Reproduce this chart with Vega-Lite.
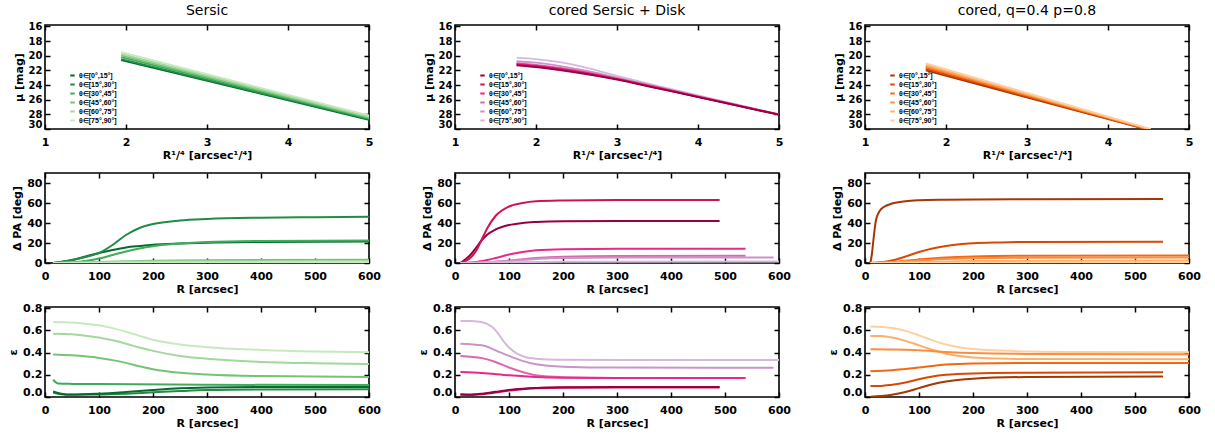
{
"$schema":"https://vega.github.io/schema/vega-lite/v6.json",
"background":"white",
"padding":{"left":6,"top":3,"right":0,"bottom":0},
"config":{
 "view":{"stroke":"black","strokeWidth":1.6},
 "axis":{"labelFont":"DejaVu Sans","labelFontWeight":"bold","labelFontSize":11,"labelColor":"black","titleFont":"DejaVu Sans","titleFontWeight":"bold","titleFontSize":11,"titleColor":"black","tickColor":"black","tickSize":-5,"tickWidth":1.5,"domain":false,"grid":false,"labelOverlap":false},
 "axisX":{"labelPadding":12,"titlePadding":2},
 "axisY":{"labelPadding":8,"titlePadding":4},
 "title":{"font":"DejaVu Sans","fontSize":14,"fontWeight":"normal","color":"black","offset":3},
 "legend":{"orient":"none","legendX":24,"legendY":47,"title":null,"symbolType":"stroke","symbolStrokeWidth":2,"symbolSize":20,"labelFontSize":7,"labelFont":"Liberation Sans","labelFontWeight":"bold","labelColor":"black","rowPadding":0,"labelOffset":3}
},
"datasets":{
"mu_a":[
{"g":0,"x":1.94,"y":20.6},{"g":0,"x":5,"y":28.75},
{"g":1,"x":1.94,"y":20.45},{"g":1,"x":5,"y":28.65},
{"g":2,"x":1.94,"y":20.2},{"g":2,"x":5,"y":28.55},
{"g":3,"x":1.94,"y":19.95},{"g":3,"x":5,"y":28.45},
{"g":4,"x":1.94,"y":19.75},{"g":4,"x":5,"y":28.3},
{"g":5,"x":1.94,"y":19.5},{"g":5,"x":5,"y":28.15}],
"mu_b":[
{"g":5,"x":1.76,"y":20.25},{"g":5,"x":2.0,"y":20.45},{"g":5,"x":2.25,"y":20.8},{"g":5,"x":2.5,"y":21.3},{"g":5,"x":2.75,"y":22.0},{"g":5,"x":3.0,"y":22.75},{"g":5,"x":3.5,"y":24.1},{"g":5,"x":4.0,"y":25.4},{"g":5,"x":4.5,"y":26.7},{"g":5,"x":5.0,"y":28.0},
{"g":4,"x":1.76,"y":20.75},{"g":4,"x":2.0,"y":20.95},{"g":4,"x":2.25,"y":21.3},{"g":4,"x":2.5,"y":21.8},{"g":4,"x":2.75,"y":22.35},{"g":4,"x":3.0,"y":23.0},{"g":4,"x":3.5,"y":24.25},{"g":4,"x":4.0,"y":25.5},{"g":4,"x":4.5,"y":26.75},{"g":4,"x":5.0,"y":28.0},
{"g":3,"x":1.76,"y":21.0},{"g":3,"x":2.0,"y":21.25},{"g":3,"x":2.5,"y":22.0},{"g":3,"x":3.0,"y":23.1},{"g":3,"x":3.5,"y":24.3},{"g":3,"x":4.0,"y":25.55},{"g":3,"x":4.5,"y":26.8},{"g":3,"x":5.0,"y":28.0},
{"g":2,"x":1.76,"y":21.1},{"g":2,"x":2.0,"y":21.35},{"g":2,"x":2.5,"y":22.1},{"g":2,"x":3.0,"y":23.15},{"g":2,"x":3.5,"y":24.35},{"g":2,"x":4.0,"y":25.6},{"g":2,"x":4.5,"y":26.8},{"g":2,"x":5.0,"y":28.05},
{"g":1,"x":1.76,"y":21.2},{"g":1,"x":2.0,"y":21.45},{"g":1,"x":2.5,"y":22.2},{"g":1,"x":3.0,"y":23.2},{"g":1,"x":3.5,"y":24.4},{"g":1,"x":4.0,"y":25.6},{"g":1,"x":4.5,"y":26.85},{"g":1,"x":5.0,"y":28.05},
{"g":0,"x":1.76,"y":21.3},{"g":0,"x":2.0,"y":21.55},{"g":0,"x":2.5,"y":22.3},{"g":0,"x":3.0,"y":23.25},{"g":0,"x":3.5,"y":24.45},{"g":0,"x":4.0,"y":25.65},{"g":0,"x":4.5,"y":26.85},{"g":0,"x":5.0,"y":28.05}],
"mu_c":[
{"g":0,"x":1.75,"y":22.0},{"g":0,"x":4.46,"y":30},
{"g":1,"x":1.75,"y":21.8},{"g":1,"x":4.47,"y":30},
{"g":2,"x":1.75,"y":21.6},{"g":2,"x":4.48,"y":30},
{"g":3,"x":1.75,"y":21.45},{"g":3,"x":4.5,"y":30},
{"g":4,"x":1.75,"y":21.25},{"g":4,"x":4.51,"y":30},
{"g":5,"x":1.75,"y":21.05},{"g":5,"x":4.53,"y":30}],
"pa_a":[
{"g":0,"x":15,"y":0},{"g":0,"x":50,"y":3},{"g":0,"x":75,"y":6.5},{"g":0,"x":100,"y":10},{"g":0,"x":125,"y":13},{"g":0,"x":150,"y":15.5},{"g":0,"x":175,"y":17},{"g":0,"x":200,"y":18.3},{"g":0,"x":250,"y":19.5},{"g":0,"x":300,"y":20.3},{"g":0,"x":400,"y":21},{"g":0,"x":600,"y":21.5},
{"g":1,"x":15,"y":0},{"g":1,"x":50,"y":3},{"g":1,"x":75,"y":6},{"g":1,"x":100,"y":10},{"g":1,"x":125,"y":18},{"g":1,"x":150,"y":28},{"g":1,"x":175,"y":35},{"g":1,"x":200,"y":39},{"g":1,"x":250,"y":42.5},{"g":1,"x":300,"y":44},{"g":1,"x":400,"y":45.3},{"g":1,"x":500,"y":45.8},{"g":1,"x":600,"y":46.2},
{"g":2,"x":15,"y":0},{"g":2,"x":50,"y":0.7},{"g":2,"x":75,"y":2},{"g":2,"x":100,"y":4.5},{"g":2,"x":125,"y":8},{"g":2,"x":150,"y":11.5},{"g":2,"x":175,"y":14.5},{"g":2,"x":200,"y":16.8},{"g":2,"x":250,"y":19.5},{"g":2,"x":300,"y":21},{"g":2,"x":400,"y":22},{"g":2,"x":600,"y":22.6},
{"g":3,"x":15,"y":0},{"g":3,"x":100,"y":1},{"g":3,"x":200,"y":2.2},{"g":3,"x":300,"y":2.8},{"g":3,"x":600,"y":3.2},
{"g":4,"x":15,"y":0},{"g":4,"x":100,"y":0.6},{"g":4,"x":200,"y":1.5},{"g":4,"x":600,"y":2},
{"g":5,"x":15,"y":0},{"g":5,"x":200,"y":0.6},{"g":5,"x":600,"y":0.9}],
"pa_b":[
{"g":0,"x":10,"y":0},{"g":0,"x":20,"y":4},{"g":0,"x":30,"y":9},{"g":0,"x":40,"y":16},{"g":0,"x":50,"y":23},{"g":0,"x":60,"y":28.5},{"g":0,"x":75,"y":33.5},{"g":0,"x":100,"y":38},{"g":0,"x":125,"y":40},{"g":0,"x":150,"y":41},{"g":0,"x":200,"y":41.8},{"g":0,"x":300,"y":42},{"g":0,"x":490,"y":42},
{"g":1,"x":10,"y":0},{"g":1,"x":20,"y":2},{"g":1,"x":30,"y":6},{"g":1,"x":40,"y":13},{"g":1,"x":50,"y":24},{"g":1,"x":60,"y":35},{"g":1,"x":75,"y":47},{"g":1,"x":100,"y":56.5},{"g":1,"x":125,"y":60},{"g":1,"x":150,"y":61.7},{"g":1,"x":200,"y":62.5},{"g":1,"x":300,"y":63},{"g":1,"x":490,"y":63},
{"g":2,"x":10,"y":0},{"g":2,"x":30,"y":0.5},{"g":2,"x":50,"y":2},{"g":2,"x":75,"y":5},{"g":2,"x":100,"y":8.5},{"g":2,"x":125,"y":11},{"g":2,"x":150,"y":12.7},{"g":2,"x":200,"y":13.8},{"g":2,"x":300,"y":14.2},{"g":2,"x":538,"y":14.3},
{"g":3,"x":10,"y":0},{"g":3,"x":50,"y":0.5},{"g":3,"x":100,"y":2.5},{"g":3,"x":150,"y":5},{"g":3,"x":200,"y":6.3},{"g":3,"x":300,"y":7},{"g":3,"x":538,"y":7.2},
{"g":4,"x":10,"y":0},{"g":4,"x":50,"y":0.5},{"g":4,"x":100,"y":2},{"g":4,"x":150,"y":4},{"g":4,"x":200,"y":5},{"g":4,"x":300,"y":5.4},{"g":4,"x":590,"y":5.5},
{"g":5,"x":10,"y":0},{"g":5,"x":100,"y":0.8},{"g":5,"x":200,"y":1.3},{"g":5,"x":600,"y":1.5}],
"pa_c":[
{"g":0,"x":10,"y":0},{"g":0,"x":13,"y":10},{"g":0,"x":16,"y":25},{"g":0,"x":20,"y":42},{"g":0,"x":25,"y":50},{"g":0,"x":30,"y":54},{"g":0,"x":40,"y":57.5},{"g":0,"x":50,"y":59.5},{"g":0,"x":75,"y":61.8},{"g":0,"x":100,"y":62.7},{"g":0,"x":150,"y":63.3},{"g":0,"x":200,"y":63.6},{"g":0,"x":300,"y":63.8},{"g":0,"x":552,"y":64},
{"g":1,"x":10,"y":0},{"g":1,"x":30,"y":0.7},{"g":1,"x":50,"y":2.5},{"g":1,"x":75,"y":6.5},{"g":1,"x":100,"y":11},{"g":1,"x":125,"y":14.5},{"g":1,"x":150,"y":17},{"g":1,"x":175,"y":18.8},{"g":1,"x":200,"y":19.8},{"g":1,"x":250,"y":20.6},{"g":1,"x":300,"y":21},{"g":1,"x":552,"y":21.3},
{"g":2,"x":10,"y":0},{"g":2,"x":50,"y":1},{"g":2,"x":100,"y":3.5},{"g":2,"x":150,"y":5.5},{"g":2,"x":200,"y":6.5},{"g":2,"x":300,"y":7.2},{"g":2,"x":600,"y":7.5},
{"g":3,"x":10,"y":0},{"g":3,"x":50,"y":0.7},{"g":3,"x":100,"y":2.5},{"g":3,"x":150,"y":4},{"g":3,"x":200,"y":4.8},{"g":3,"x":300,"y":5.2},{"g":3,"x":600,"y":5.4},
{"g":4,"x":10,"y":0},{"g":4,"x":100,"y":1},{"g":4,"x":200,"y":2},{"g":4,"x":600,"y":2.5},
{"g":5,"x":10,"y":0},{"g":5,"x":600,"y":0.8}],
"ep_a":[
{"g":5,"x":15,"y":0.675},{"g":5,"x":50,"y":0.67},{"g":5,"x":75,"y":0.66},{"g":5,"x":100,"y":0.645},{"g":5,"x":125,"y":0.62},{"g":5,"x":150,"y":0.588},{"g":5,"x":175,"y":0.55},{"g":5,"x":200,"y":0.515},{"g":5,"x":250,"y":0.472},{"g":5,"x":300,"y":0.448},{"g":5,"x":400,"y":0.424},{"g":5,"x":500,"y":0.41},{"g":5,"x":600,"y":0.403},
{"g":4,"x":15,"y":0.57},{"g":4,"x":50,"y":0.565},{"g":4,"x":75,"y":0.552},{"g":4,"x":100,"y":0.535},{"g":4,"x":125,"y":0.51},{"g":4,"x":150,"y":0.48},{"g":4,"x":175,"y":0.445},{"g":4,"x":200,"y":0.415},{"g":4,"x":250,"y":0.37},{"g":4,"x":300,"y":0.345},{"g":4,"x":400,"y":0.316},{"g":4,"x":500,"y":0.304},{"g":4,"x":600,"y":0.298},
{"g":3,"x":15,"y":0.382},{"g":3,"x":50,"y":0.375},{"g":3,"x":100,"y":0.352},{"g":3,"x":125,"y":0.332},{"g":3,"x":150,"y":0.307},{"g":3,"x":175,"y":0.277},{"g":3,"x":200,"y":0.25},{"g":3,"x":250,"y":0.218},{"g":3,"x":300,"y":0.203},{"g":3,"x":400,"y":0.188},{"g":3,"x":600,"y":0.179},
{"g":2,"x":15,"y":0.155},{"g":2,"x":20,"y":0.132},{"g":2,"x":25,"y":0.121},{"g":2,"x":50,"y":0.118},{"g":2,"x":100,"y":0.116},{"g":2,"x":300,"y":0.11},{"g":2,"x":600,"y":0.107},
{"g":1,"x":15,"y":0.04},{"g":1,"x":30,"y":0.025},{"g":1,"x":50,"y":0.02},{"g":1,"x":100,"y":0.022},{"g":1,"x":150,"y":0.03},{"g":1,"x":200,"y":0.042},{"g":1,"x":250,"y":0.053},{"g":1,"x":300,"y":0.062},{"g":1,"x":400,"y":0.068},{"g":1,"x":600,"y":0.07},
{"g":0,"x":15,"y":0.05},{"g":0,"x":30,"y":0.03},{"g":0,"x":50,"y":0.022},{"g":0,"x":100,"y":0.03},{"g":0,"x":150,"y":0.045},{"g":0,"x":200,"y":0.063},{"g":0,"x":250,"y":0.078},{"g":0,"x":300,"y":0.085},{"g":0,"x":400,"y":0.09},{"g":0,"x":600,"y":0.09}],
"ep_b":[
{"g":5,"x":10,"y":0.685},{"g":5,"x":30,"y":0.683},{"g":5,"x":50,"y":0.672},{"g":5,"x":60,"y":0.655},{"g":5,"x":70,"y":0.625},{"g":5,"x":80,"y":0.57},{"g":5,"x":90,"y":0.5},{"g":5,"x":100,"y":0.445},{"g":5,"x":115,"y":0.39},{"g":5,"x":130,"y":0.36},{"g":5,"x":150,"y":0.345},{"g":5,"x":200,"y":0.335},{"g":5,"x":300,"y":0.332},{"g":5,"x":600,"y":0.332},
{"g":4,"x":10,"y":0.48},{"g":4,"x":50,"y":0.465},{"g":4,"x":75,"y":0.42},{"g":4,"x":100,"y":0.37},{"g":4,"x":125,"y":0.325},{"g":4,"x":150,"y":0.294},{"g":4,"x":200,"y":0.273},{"g":4,"x":300,"y":0.265},{"g":4,"x":590,"y":0.264},
{"g":3,"x":10,"y":0.37},{"g":3,"x":50,"y":0.35},{"g":3,"x":75,"y":0.315},{"g":3,"x":100,"y":0.265},{"g":3,"x":125,"y":0.225},{"g":3,"x":150,"y":0.195},{"g":3,"x":200,"y":0.178},{"g":3,"x":300,"y":0.172},{"g":3,"x":538,"y":0.171},
{"g":2,"x":10,"y":0.225},{"g":2,"x":50,"y":0.215},{"g":2,"x":100,"y":0.195},{"g":2,"x":150,"y":0.18},{"g":2,"x":200,"y":0.174},{"g":2,"x":300,"y":0.171},{"g":2,"x":538,"y":0.17},
{"g":1,"x":10,"y":0.02},{"g":1,"x":30,"y":0.018},{"g":1,"x":50,"y":0.024},{"g":1,"x":75,"y":0.04},{"g":1,"x":100,"y":0.058},{"g":1,"x":125,"y":0.07},{"g":1,"x":150,"y":0.078},{"g":1,"x":200,"y":0.083},{"g":1,"x":300,"y":0.085},{"g":1,"x":490,"y":0.085},
{"g":0,"x":10,"y":0.025},{"g":0,"x":30,"y":0.023},{"g":0,"x":50,"y":0.03},{"g":0,"x":75,"y":0.047},{"g":0,"x":100,"y":0.064},{"g":0,"x":125,"y":0.075},{"g":0,"x":150,"y":0.082},{"g":0,"x":200,"y":0.087},{"g":0,"x":300,"y":0.09},{"g":0,"x":490,"y":0.09}],
"ep_c":[
{"g":5,"x":10,"y":0.635},{"g":5,"x":30,"y":0.63},{"g":5,"x":50,"y":0.62},{"g":5,"x":75,"y":0.595},{"g":5,"x":100,"y":0.555},{"g":5,"x":125,"y":0.51},{"g":5,"x":150,"y":0.472},{"g":5,"x":175,"y":0.448},{"g":5,"x":200,"y":0.432},{"g":5,"x":250,"y":0.418},{"g":5,"x":300,"y":0.41},{"g":5,"x":400,"y":0.405},{"g":5,"x":600,"y":0.403},
{"g":4,"x":10,"y":0.55},{"g":4,"x":30,"y":0.548},{"g":4,"x":50,"y":0.535},{"g":4,"x":75,"y":0.505},{"g":4,"x":100,"y":0.465},{"g":4,"x":125,"y":0.425},{"g":4,"x":150,"y":0.39},{"g":4,"x":175,"y":0.368},{"g":4,"x":200,"y":0.356},{"g":4,"x":250,"y":0.346},{"g":4,"x":300,"y":0.342},{"g":4,"x":600,"y":0.34},
{"g":3,"x":10,"y":0.43},{"g":3,"x":50,"y":0.428},{"g":3,"x":100,"y":0.42},{"g":3,"x":150,"y":0.405},{"g":3,"x":200,"y":0.395},{"g":3,"x":300,"y":0.388},{"g":3,"x":600,"y":0.385},
{"g":2,"x":10,"y":0.232},{"g":2,"x":50,"y":0.24},{"g":2,"x":75,"y":0.252},{"g":2,"x":100,"y":0.265},{"g":2,"x":125,"y":0.28},{"g":2,"x":150,"y":0.292},{"g":2,"x":200,"y":0.302},{"g":2,"x":300,"y":0.306},{"g":2,"x":600,"y":0.307},
{"g":1,"x":10,"y":0.1},{"g":1,"x":30,"y":0.1},{"g":1,"x":50,"y":0.11},{"g":1,"x":75,"y":0.13},{"g":1,"x":100,"y":0.16},{"g":1,"x":125,"y":0.185},{"g":1,"x":150,"y":0.2},{"g":1,"x":200,"y":0.212},{"g":1,"x":300,"y":0.218},{"g":1,"x":552,"y":0.222},
{"g":0,"x":10,"y":0.003},{"g":0,"x":30,"y":0.008},{"g":0,"x":50,"y":0.02},{"g":0,"x":75,"y":0.045},{"g":0,"x":100,"y":0.08},{"g":0,"x":125,"y":0.115},{"g":0,"x":150,"y":0.14},{"g":0,"x":200,"y":0.165},{"g":0,"x":300,"y":0.18},{"g":0,"x":552,"y":0.185}]
},
"columns":3,
"spacing":{"row":44,"column":86},
"bounds":"flush",
"resolve":{"scale":{"color":"independent"},"legend":{"color":"independent"}},
"concat":[
{"width":324,"height":104,"title":"Sersic","data":{"name":"mu_a"},
 "layer":[
  {"mark":{"type":"line","strokeWidth":1.8,"clip":true},
   "encoding":{
    "x":{"field":"x","type":"quantitative","scale":{"domain":[1,5],"nice":false,"zero":false},"axis":{"values":[1,2,3,4,5],"title":"R¹/⁴ [arcsec¹/⁴]","labelFlush":false}},
    "y":{"field":"y","type":"quantitative","scale":{"domain":[15.8,30],"nice":false,"zero":false,"reverse":true},"axis":{"values":[16,18,20,22,24,26,28,30],"title":"μ [mag]","labelFlush":true,"labelFontSize":10}},
    "color":{"field":"g","type":"nominal","scale":{"domain":[0,1,2,3,4,5],"range":["#006d2c","#238b45","#41ab5d","#74c476","#a1d99b","#c7e9c0"]},"legend":{"labelExpr":"['θ∈[0°,15°]','θ∈[15°,30°]','θ∈[30°,45°]','θ∈[45°,60°]','θ∈[60°,75°]','θ∈[75°,90°]'][+datum.label]"}}}},
  {"mark":{"type":"line","opacity":0},
   "encoding":{
    "x":{"field":"x","type":"quantitative","scale":{"domain":[1,5],"nice":false,"zero":false},"axis":{"orient":"top","values":[1,2,3,4,5],"labels":false,"title":null}},
    "y":{"field":"y","type":"quantitative","scale":{"domain":[15.8,30],"nice":false,"zero":false,"reverse":true},"axis":{"orient":"right","values":[16,18,20,22,24,26,28,30],"labels":false,"title":null}}}}],
 "resolve":{"axis":{"x":"independent","y":"independent"}}},
{"width":324,"height":104,"title":"cored Sersic + Disk","data":{"name":"mu_b"},
 "layer":[
  {"mark":{"type":"line","strokeWidth":1.8,"clip":true,"interpolate":"monotone"},
   "encoding":{
    "x":{"field":"x","type":"quantitative","scale":{"domain":[1,5],"nice":false,"zero":false},"axis":{"values":[1,2,3,4,5],"title":"R¹/⁴ [arcsec¹/⁴]","labelFlush":false}},
    "y":{"field":"y","type":"quantitative","scale":{"domain":[15.8,30],"nice":false,"zero":false,"reverse":true},"axis":{"values":[16,18,20,22,24,26,28,30],"title":"μ [mag]","labelFlush":true,"labelFontSize":10}},
    "color":{"field":"g","type":"nominal","scale":{"domain":[0,1,2,3,4,5],"range":["#980043","#ce1256","#e7298a","#df65b0","#c994c7","#d4b9da"]},"legend":{"labelExpr":"['θ∈[0°,15°]','θ∈[15°,30°]','θ∈[30°,45°]','θ∈[45°,60°]','θ∈[60°,75°]','θ∈[75°,90°]'][+datum.label]"}}}},
  {"mark":{"type":"line","opacity":0},
   "encoding":{
    "x":{"field":"x","type":"quantitative","scale":{"domain":[1,5],"nice":false,"zero":false},"axis":{"orient":"top","values":[1,2,3,4,5],"labels":false,"title":null}},
    "y":{"field":"y","type":"quantitative","scale":{"domain":[15.8,30],"nice":false,"zero":false,"reverse":true},"axis":{"orient":"right","values":[16,18,20,22,24,26,28,30],"labels":false,"title":null}}}}],
 "resolve":{"axis":{"x":"independent","y":"independent"}}},
{"width":324,"height":104,"title":"cored, q=0.4  p=0.8","data":{"name":"mu_c"},
 "layer":[
  {"mark":{"type":"line","strokeWidth":1.8,"clip":true},
   "encoding":{
    "x":{"field":"x","type":"quantitative","scale":{"domain":[1,5],"nice":false,"zero":false},"axis":{"values":[1,2,3,4,5],"title":"R¹/⁴ [arcsec¹/⁴]","labelFlush":false}},
    "y":{"field":"y","type":"quantitative","scale":{"domain":[15.8,30],"nice":false,"zero":false,"reverse":true},"axis":{"values":[16,18,20,22,24,26,28,30],"title":"μ [mag]","labelFlush":true,"labelFontSize":10}},
    "color":{"field":"g","type":"nominal","scale":{"domain":[0,1,2,3,4,5],"range":["#a63603","#d94801","#f16913","#fd8d3c","#fdae6b","#fdd0a2"]},"legend":{"labelExpr":"['θ∈[0°,15°]','θ∈[15°,30°]','θ∈[30°,45°]','θ∈[45°,60°]','θ∈[60°,75°]','θ∈[75°,90°]'][+datum.label]"}}}},
  {"mark":{"type":"line","opacity":0},
   "encoding":{
    "x":{"field":"x","type":"quantitative","scale":{"domain":[1,5],"nice":false,"zero":false},"axis":{"orient":"top","values":[1,2,3,4,5],"labels":false,"title":null}},
    "y":{"field":"y","type":"quantitative","scale":{"domain":[15.8,30],"nice":false,"zero":false,"reverse":true},"axis":{"orient":"right","values":[16,18,20,22,24,26,28,30],"labels":false,"title":null}}}}],
 "resolve":{"axis":{"x":"independent","y":"independent"}}},
{"width":324,"height":90,"data":{"name":"pa_a"},
 "layer":[
  {"mark":{"type":"line","strokeWidth":2,"clip":true,"interpolate":"monotone"},
   "encoding":{
    "x":{"field":"x","type":"quantitative","scale":{"domain":[0,600],"nice":false},"axis":{"values":[0,100,200,300,400,500,600],"title":"R [arcsec]","labelFlush":false}},
    "y":{"field":"y","type":"quantitative","scale":{"domain":[0,90],"nice":false},"axis":{"values":[0,20,40,60,80],"title":"Δ PA [deg]","labelFlush":false}},
    "color":{"field":"g","type":"nominal","scale":{"domain":[0,1,2,3,4,5],"range":["#006d2c","#238b45","#41ab5d","#74c476","#a1d99b","#c7e9c0"]},"legend":null}}},
  {"mark":{"type":"line","opacity":0},
   "encoding":{
    "x":{"field":"x","type":"quantitative","scale":{"domain":[0,600],"nice":false},"axis":{"orient":"top","values":[0,100,200,300,400,500,600],"labels":false,"title":null}},
    "y":{"field":"y","type":"quantitative","scale":{"domain":[0,90],"nice":false},"axis":{"orient":"right","values":[0,20,40,60,80],"labels":false,"title":null}}}}],
 "resolve":{"axis":{"x":"independent","y":"independent"}}},
{"width":324,"height":90,"data":{"name":"pa_b"},
 "layer":[
  {"mark":{"type":"line","strokeWidth":2,"clip":true,"interpolate":"monotone"},
   "encoding":{
    "x":{"field":"x","type":"quantitative","scale":{"domain":[0,600],"nice":false},"axis":{"values":[0,100,200,300,400,500,600],"title":"R [arcsec]","labelFlush":false}},
    "y":{"field":"y","type":"quantitative","scale":{"domain":[0,90],"nice":false},"axis":{"values":[0,20,40,60,80],"title":"Δ PA [deg]","labelFlush":false}},
    "color":{"field":"g","type":"nominal","scale":{"domain":[0,1,2,3,4,5],"range":["#980043","#ce1256","#e7298a","#df65b0","#c994c7","#d4b9da"]},"legend":null}}},
  {"mark":{"type":"line","opacity":0},
   "encoding":{
    "x":{"field":"x","type":"quantitative","scale":{"domain":[0,600],"nice":false},"axis":{"orient":"top","values":[0,100,200,300,400,500,600],"labels":false,"title":null}},
    "y":{"field":"y","type":"quantitative","scale":{"domain":[0,90],"nice":false},"axis":{"orient":"right","values":[0,20,40,60,80],"labels":false,"title":null}}}}],
 "resolve":{"axis":{"x":"independent","y":"independent"}}},
{"width":324,"height":90,"data":{"name":"pa_c"},
 "layer":[
  {"mark":{"type":"line","strokeWidth":2,"clip":true,"interpolate":"monotone"},
   "encoding":{
    "x":{"field":"x","type":"quantitative","scale":{"domain":[0,600],"nice":false},"axis":{"values":[0,100,200,300,400,500,600],"title":"R [arcsec]","labelFlush":false}},
    "y":{"field":"y","type":"quantitative","scale":{"domain":[0,90],"nice":false},"axis":{"values":[0,20,40,60,80],"title":"Δ PA [deg]","labelFlush":false}},
    "color":{"field":"g","type":"nominal","scale":{"domain":[0,1,2,3,4,5],"range":["#a63603","#d94801","#f16913","#fd8d3c","#fdae6b","#fdd0a2"]},"legend":null}}},
  {"mark":{"type":"line","opacity":0},
   "encoding":{
    "x":{"field":"x","type":"quantitative","scale":{"domain":[0,600],"nice":false},"axis":{"orient":"top","values":[0,100,200,300,400,500,600],"labels":false,"title":null}},
    "y":{"field":"y","type":"quantitative","scale":{"domain":[0,90],"nice":false},"axis":{"orient":"right","values":[0,20,40,60,80],"labels":false,"title":null}}}}],
 "resolve":{"axis":{"x":"independent","y":"independent"}}},
{"width":324,"height":90,"data":{"name":"ep_a"},
 "layer":[
  {"mark":{"type":"line","strokeWidth":2,"clip":true,"interpolate":"monotone"},
   "encoding":{
    "x":{"field":"x","type":"quantitative","scale":{"domain":[0,600],"nice":false},"axis":{"values":[0,100,200,300,400,500,600],"title":"R [arcsec]","labelFlush":false}},
    "y":{"field":"y","type":"quantitative","scale":{"domain":[0,0.81],"nice":false},"axis":{"values":[0,0.2,0.4,0.6,0.8],"format":".1f","title":"ε","labelFlush":true}},
    "color":{"field":"g","type":"nominal","scale":{"domain":[0,1,2,3,4,5],"range":["#006d2c","#238b45","#41ab5d","#74c476","#a1d99b","#c7e9c0"]},"legend":null}}},
  {"mark":{"type":"line","opacity":0},
   "encoding":{
    "x":{"field":"x","type":"quantitative","scale":{"domain":[0,600],"nice":false},"axis":{"orient":"top","values":[0,100,200,300,400,500,600],"labels":false,"title":null}},
    "y":{"field":"y","type":"quantitative","scale":{"domain":[0,0.81],"nice":false},"axis":{"orient":"right","values":[0,0.2,0.4,0.6,0.8],"labels":false,"title":null}}}}],
 "resolve":{"axis":{"x":"independent","y":"independent"}}},
{"width":324,"height":90,"data":{"name":"ep_b"},
 "layer":[
  {"mark":{"type":"line","strokeWidth":2,"clip":true,"interpolate":"monotone"},
   "encoding":{
    "x":{"field":"x","type":"quantitative","scale":{"domain":[0,600],"nice":false},"axis":{"values":[0,100,200,300,400,500,600],"title":"R [arcsec]","labelFlush":false}},
    "y":{"field":"y","type":"quantitative","scale":{"domain":[0,0.81],"nice":false},"axis":{"values":[0,0.2,0.4,0.6,0.8],"format":".1f","title":"ε","labelFlush":true}},
    "color":{"field":"g","type":"nominal","scale":{"domain":[0,1,2,3,4,5],"range":["#980043","#ce1256","#e7298a","#df65b0","#c994c7","#d4b9da"]},"legend":null}}},
  {"mark":{"type":"line","opacity":0},
   "encoding":{
    "x":{"field":"x","type":"quantitative","scale":{"domain":[0,600],"nice":false},"axis":{"orient":"top","values":[0,100,200,300,400,500,600],"labels":false,"title":null}},
    "y":{"field":"y","type":"quantitative","scale":{"domain":[0,0.81],"nice":false},"axis":{"orient":"right","values":[0,0.2,0.4,0.6,0.8],"labels":false,"title":null}}}}],
 "resolve":{"axis":{"x":"independent","y":"independent"}}},
{"width":324,"height":90,"data":{"name":"ep_c"},
 "layer":[
  {"mark":{"type":"line","strokeWidth":2,"clip":true,"interpolate":"monotone"},
   "encoding":{
    "x":{"field":"x","type":"quantitative","scale":{"domain":[0,600],"nice":false},"axis":{"values":[0,100,200,300,400,500,600],"title":"R [arcsec]","labelFlush":false}},
    "y":{"field":"y","type":"quantitative","scale":{"domain":[0,0.81],"nice":false},"axis":{"values":[0,0.2,0.4,0.6,0.8],"format":".1f","title":"ε","labelFlush":true}},
    "color":{"field":"g","type":"nominal","scale":{"domain":[0,1,2,3,4,5],"range":["#a63603","#d94801","#f16913","#fd8d3c","#fdae6b","#fdd0a2"]},"legend":null}}},
  {"mark":{"type":"line","opacity":0},
   "encoding":{
    "x":{"field":"x","type":"quantitative","scale":{"domain":[0,600],"nice":false},"axis":{"orient":"top","values":[0,100,200,300,400,500,600],"labels":false,"title":null}},
    "y":{"field":"y","type":"quantitative","scale":{"domain":[0,0.81],"nice":false},"axis":{"orient":"right","values":[0,0.2,0.4,0.6,0.8],"labels":false,"title":null}}}}],
 "resolve":{"axis":{"x":"independent","y":"independent"}}}
]
}
